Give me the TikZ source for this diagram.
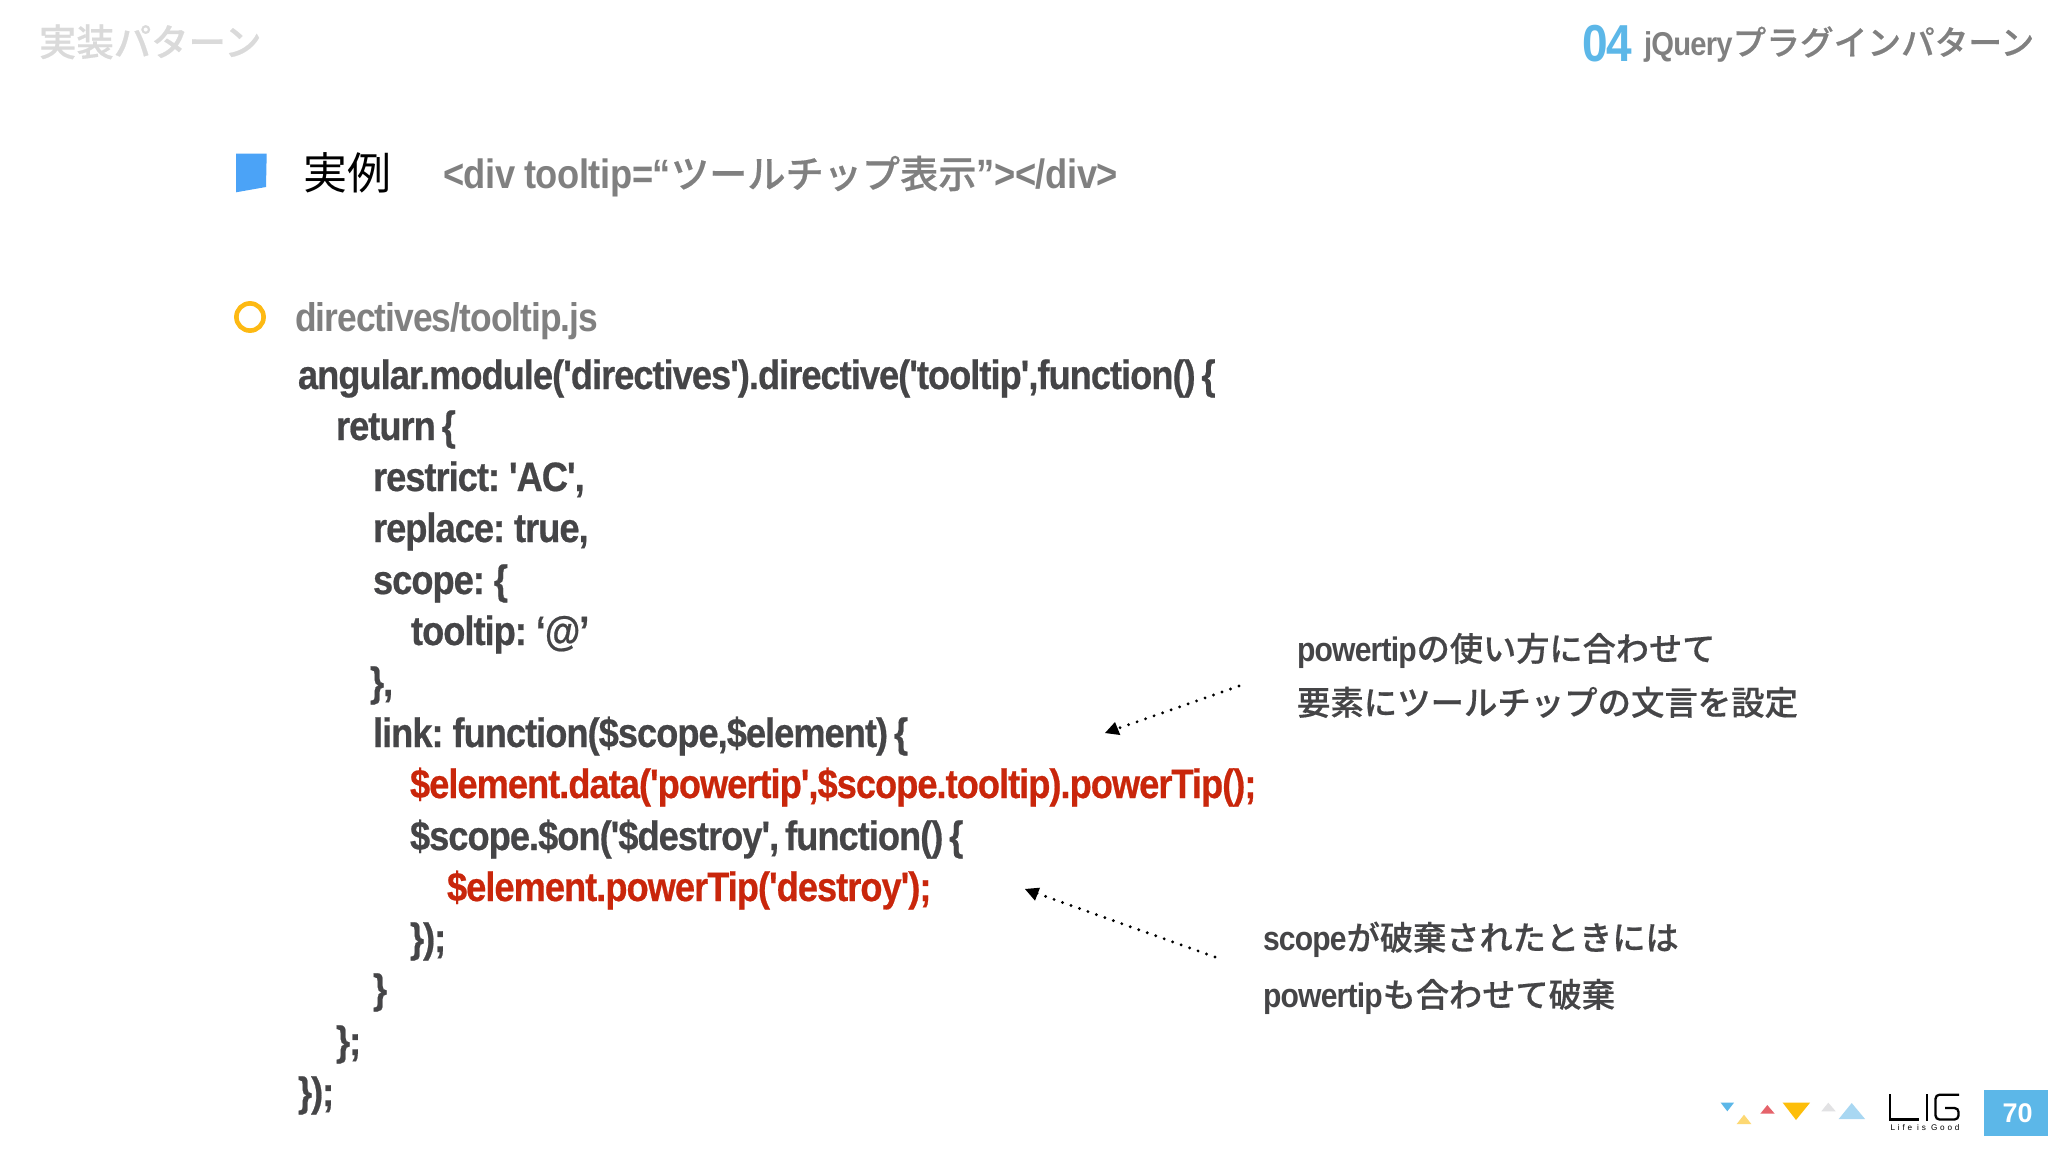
\documentclass[tikz,border=0pt]{standalone}
\usepackage{fontspec}
\setmainfont{Liberation Sans}
\newfontfamily\codef[LetterSpace=-2.45,FakeStretch=0.885,FakeBold=0.5,WordSpace=0.65]{Liberation Sans Bold}
\newfontfamily\latf[LetterSpace=-2.4,FakeStretch=0.885,WordSpace=0.85]{Liberation Sans Bold}
\newfontfamily\divf[LetterSpace=-1.0,FakeStretch=0.885,WordSpace=0.9]{Liberation Sans Bold}
\newfontfamily\cjkb[FakeBold=0.45]{Noto Sans CJK JP Medium}
\newfontfamily\cjkr{Noto Sans CJK JP}
\newfontfamily\logof[LetterSpace=34]{Liberation Sans}
\definecolor{codegray}{HTML}{454547}
\definecolor{midgray}{HTML}{808080}
\definecolor{titlegray}{HTML}{DADADA}
\definecolor{headgray}{HTML}{808080}
\definecolor{codered}{HTML}{C9260B}
\definecolor{liblue}{HTML}{5CB7E8}
\definecolor{sqblue}{HTML}{4BA3F7}
\definecolor{ringy}{HTML}{FDB913}
\definecolor{t1}{HTML}{5CB7E8}\definecolor{t2}{HTML}{FDD873}\definecolor{t3}{HTML}{E5636B}
\definecolor{t4}{HTML}{FDBE0A}\definecolor{t5}{HTML}{E2E2E4}\definecolor{t6}{HTML}{A8D7F2}
\newcommand{\fs}[1]{\fontsize{#1}{#1}\selectfont}
\newcommand{\jb}[2]{{\cjkb\fs{#1}#2}}
\tikzset{
  x=1pt,y=-1pt,
  txt/.style={anchor=base west,inner sep=0pt,outer sep=0pt},
  code/.style={txt,text=codegray,font=\codef\fs{41}},
  redcode/.style={txt,text=codered,font=\codef\fs{41}},
  note/.style={txt,text=codegray,font=\latf\fs{34}},
  dotarrow/.style={line width=3.2pt,line cap=round,dash pattern=on 0pt off 9pt,
     shorten >=7pt},
  tip/.style={fill=black,draw=none},
  logo/.style={line width=2.3pt,black}
}
\begin{document}
\begin{tikzpicture}
\useasboundingbox (0,0) rectangle (2048,1152);
\fill[white] (0,0) rectangle (2048,1152);

% header
\node[txt,text=titlegray,font=\cjkb\fs{37.4}] (title) at (39,56) {実装パターン};
\node[txt,text=liblue,font=\latf\fs{52}] (num) at (1582,61) {04};
\node[txt,text=headgray,font=\latf\fs{33}] (sub) at (1644,55) {jQuery\jb{33.7}{プラグインパターン}};

% heading
\fill[sqblue] (236,153.7) -- (266.7,153.7) -- (266,187) -- (236,192.3) -- cycle;
\node[txt,font=\cjkr\fs{44}] (jitsu) at (303,189) {実例};
\node[txt,text=midgray,font=\divf\fs{41}] (divt) at (443,188) {<div tooltip=“\jb{38.2}{ツールチップ表示}”></div>};

\draw[ringy,line width=4.6pt] (250,317) circle (13.6);
\node[txt,text=midgray,font=\latf\fs{40}] (path) at (295,331) {directives/tooltip.js};

% code
\node[code] (c1) at (298,389) {angular.module('directives').directive('tooltip',function() \{};
\node[code] (c2) at (336,440) {return \{};
\node[code] (c3) at (373,491) {restrict: 'AC',};
\node[code] (c4) at (373,542) {replace: true,};
\node[code] (c5) at (373,594) {scope: \{};
\node[code] (c6) at (411,645) {tooltip: ‘@’};
\node[code] (c7) at (370,696) {\},};
\node[code] (c8) at (373,747) {link: function(\$scope,\$element) \{};
\node[redcode] (c9) at (410,798) {\$element.data('powertip',\$scope.tooltip).powerTip();};
\node[code] (c10) at (410,850) {\$scope.\$on('\$destroy', function() \{};
\node[redcode] (c11) at (447,901) {\$element.powerTip('destroy');};
\node[code] (c12) at (410,952) {\});};
\node[code] (c13) at (373,1003) {\}};
\node[code] (c14) at (336,1055) {\};};
\node[code] (c15) at (298,1106) {\});};

% notes
\node[note] (n1) at (1297,661) {powertip\jb{33.2}{の使い方に合わせて}};
\node[note] (n2) at (1297,715) {\jb{33.4}{要素にツールチップの文言を設定}};
\node[note] (n3) at (1263,950) {scope\jb{33.2}{が破棄されたときには}};
\node[note] (n4) at (1263,1007) {powertip\jb{33.2}{も合わせて破棄}};

% arrows
\coordinate (a1s) at (1239,686);
\coordinate (a1t) at (1105,733);
\coordinate (a2s) at (1215,957);
\coordinate (a2t) at (1025,889);
\draw[dotarrow] (a1s) -- (a1t);
\draw[dotarrow] (a2s) -- (a2t);
\fill[tip] (a1t) -- (1115,722) -- (1120.3,735) -- cycle;
\fill[tip] (a2t) -- (1040,887.7) -- (1035,900.7) -- cycle;

% footer triangles
\fill[t1] (1720.7,1102.7) -- (1734,1102.7) -- (1727.3,1111.3) -- cycle;
\fill[t2] (1736.7,1124) -- (1751.3,1124) -- (1744,1114.7) -- cycle;
\fill[t3] (1760.3,1113.7) -- (1774.7,1113.7) -- (1767.3,1105) -- cycle;
\fill[t4] (1782.7,1102.7) -- (1810,1102.7) -- (1796,1120) -- cycle;
\fill[t5] (1821.3,1111.3) -- (1835.7,1111.3) -- (1828.3,1102.7) -- cycle;
\fill[t6] (1838.7,1119) -- (1865,1119) -- (1851.7,1103) -- cycle;

% logo
\draw[logo] (1890,1094) -- (1890,1119.5) -- (1919,1119.5);
\draw[logo] (1927.3,1094) -- (1927.3,1120.7);
\draw[logo,rounded corners=4pt] (1959,1094.7) -- (1935.5,1094.7) -- (1935.5,1119.5) -- (1958.5,1119.5) -- (1958.5,1108) -- (1945,1108);
\node[anchor=center,inner sep=0pt,font=\logof\fs{8.2}] (lg) at (1925,1128) {Life is Good};

% page
\fill[liblue] (1983.7,1090) rectangle (2048,1136);
\node[anchor=center,inner sep=0pt,text=white,font=\bfseries\fs{27}] (pg) at (2017.5,1113.5) {70};
\end{tikzpicture}
\end{document}
